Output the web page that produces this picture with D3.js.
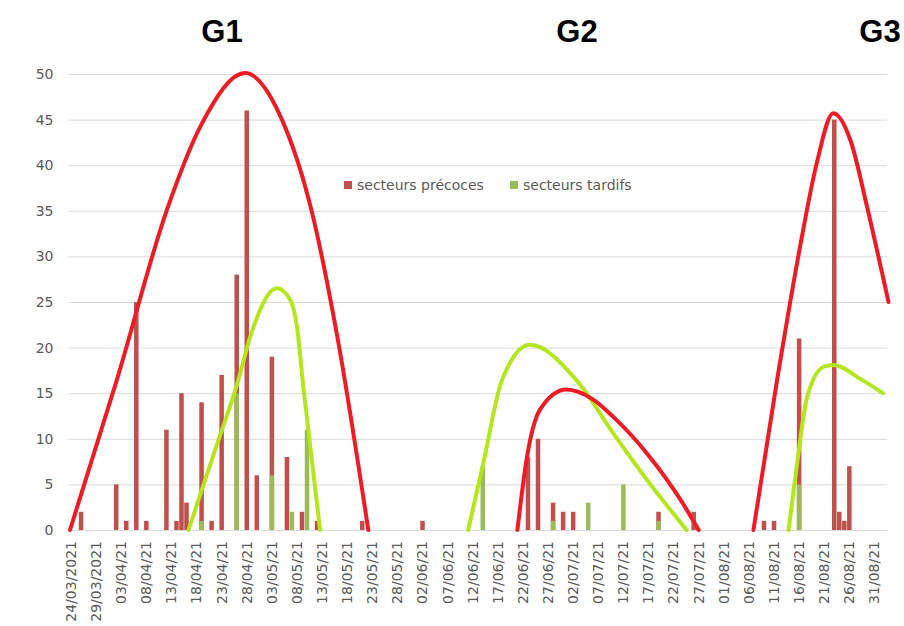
<!DOCTYPE html>
<html>
<head>
<meta charset="utf-8">
<script src="https://cdn.jsdelivr.net/npm/d3@7"></script>
<style>
body{margin:0;background:#fff;}
text{font-family:"DejaVu Sans",sans-serif;}
</style>
</head>
<body>
<svg id="chart" width="904" height="626"></svg>
<script>
// one category per day, from 24/03/2021 to 02/09/2021
const firstDay = new Date(2021, 2, 24);
const nbDays = 163;

// labels shown every 5 days
const tickLabels = ["24/03/2021","29/03/2021","03/04/21","08/04/21","13/04/21","18/04/21","23/04/21",
  "28/04/21","03/05/21","08/05/21","13/05/21","18/05/21","23/05/21","28/05/21","02/06/21","07/06/21",
  "12/06/21","17/06/21","22/06/21","27/06/21","02/07/21","07/07/21","12/07/21","17/07/21","22/07/21",
  "27/07/21","01/08/21","06/08/21","11/08/21","16/08/21","21/08/21","26/08/21","31/08/21"];

const yTicks = [0,5,10,15,20,25,30,35,40,45,50];

const seriesNames = ["secteurs précoces","secteurs tardifs"];

// [day, count]
const precoces = [["26/03",2],["02/04",5],["04/04",1],["06/04",25],["08/04",1],["12/04",11],["14/04",1],
  ["15/04",15],["16/04",3],["19/04",14],["21/04",1],["23/04",17],["26/04",28],["28/04",46],["30/04",6],
  ["03/05",19],["06/05",8],["09/05",2],["12/05",1],["21/05",1],["02/06",1],["23/06",8],["25/06",10],
  ["28/06",3],["30/06",2],["02/07",2],["19/07",2],["26/07",2],["09/08",1],["11/08",1],["16/08",21],
  ["23/08",45],["24/08",2],["25/08",1],["26/08",7]];

const tardifs = [["19/04",1],["26/04",15],["03/05",6],["07/05",2],["10/05",11],["14/06",7],["28/06",1],
  ["05/07",3],["12/07",5],["19/07",1],["16/08",5]];

// hand drawn trend curves: [days since 24/03, value]
const g1Rouge = [[-0.2,0],[9.1,16.4],[19.1,35.1],[26,44.5],[34.7,50.1],[42,45],[48,34.8],[53,21.3],[59.2,0]];
const g1Vert = [[23.4,0],[28.4,8.3],[33.3,16.4],[35.7,21.2],[41,26.5],[43.7,25.2],[45,22.3],[46.3,15.5],[49.6,0]];
const g2Rouge = [[88.9,0],[90.8,8],[93.4,13.2],[98.6,15.4],[104,14.3],[108,12.4],[114.7,8.4],[121.4,3.3],[125,0]];
const g2Vert = [[79.1,0],[82.1,7.3],[85.8,16.4],[91.4,20.3],[100.7,16.4],[108,10.6],[114.7,5.5],[122.6,0]];
const g3Rouge = [[135.9,0],[140.6,16.4],[145.2,31.1],[148.5,40.2],[151.8,45.7],[155.3,42.6],[158.5,35.5],[162.8,25]];
const g3Vert = [[142.9,0],[144.6,7.3],[146.6,14.6],[149.9,17.9],[151.8,18.1],[157.1,16.6],[161.7,15]];

const groupes = ["G1","G2","G3"];

const svg = d3.select('#chart');
const margin = {top:74, right:17, bottom:96, left:68.5};
const width = 904 - margin.left - margin.right;
const height = 626 - margin.top - margin.bottom;

const fmt = d3.timeFormat('%d/%m');
const categories = d3.range(nbDays).map(i => fmt(d3.timeDay.offset(firstDay, i)));

const x = d3.scaleBand().domain(categories).range([0, width]).paddingInner(0.1).paddingOuter(0.05);
const y = d3.scaleLinear().domain([0, 50]).range([height, 0]);
const xDay = d3.scaleLinear().domain([0, nbDays - 1])
  .range([x(categories[0]) + x.bandwidth()/2, x(categories[nbDays-1]) + x.bandwidth()/2]);

const g = svg.append('g').attr('transform', `translate(${margin.left},${margin.top})`);

// grid + y labels
const yAxis = g.append('g')
  .call(d3.axisLeft(y).tickValues(yTicks).tickSize(-width).tickPadding(15));
yAxis.select('.domain').remove();
yAxis.selectAll('line').attr('stroke', '#d9d9d9');
yAxis.selectAll('text').attr('fill', '#595959').style('font-size', '14px');

// x labels
const tickCats = categories.filter((d, i) => i % 5 === 0);
const xAxis = g.append('g').attr('transform', `translate(0,${height})`)
  .call(d3.axisBottom(x).tickValues(tickCats).tickSize(0).tickFormat((d, i) => tickLabels[i]));
xAxis.select('.domain').attr('stroke', '#d9d9d9');
xAxis.selectAll('text')
  .attr('transform', 'rotate(-90)')
  .attr('text-anchor', 'end')
  .attr('x', -11).attr('y', 0).attr('dy', '0.35em')
  .attr('fill', '#595959').style('font-size', '14px');

// bars (green drawn over red)
const colors = ['#c0504d', '#9bbb59'];
[precoces, tardifs].forEach((serie, k) => {
  g.append('g').selectAll('rect').data(serie).enter().append('rect')
    .attr('x', d => x(d[0]))
    .attr('width', x.bandwidth())
    .attr('y', d => y(d[1]))
    .attr('height', d => y(0) - y(d[1]))
    .attr('fill', colors[k]);
});

// trend curves
const line = d3.line().x(d => xDay(d[0])).y(d => y(d[1])).curve(d3.curveMonotoneX);
const courbes = [[g1Rouge,'#ed1c24'],[g1Vert,'#b5e61d'],[g2Vert,'#b5e61d'],[g2Rouge,'#ed1c24'],[g3Rouge,'#ed1c24'],[g3Vert,'#b5e61d']];
g.selectAll('path.courbe').data(courbes).enter().append('path')
  .attr('class', 'courbe')
  .attr('d', d => line(d[0]))
  .attr('fill', 'none')
  .attr('stroke', d => d[1])
  .attr('stroke-width', 4)
  .attr('stroke-linecap', 'round');

// legend
const legX = [344, 510];
const leg = svg.append('g').selectAll('g').data(seriesNames).enter().append('g')
  .attr('transform', (d, i) => `translate(${legX[i]},181)`);
leg.append('rect').attr('width', 8).attr('height', 8).attr('fill', (d, i) => colors[i]);
leg.append('text').attr('x', 13).attr('y', 9).attr('fill', '#595959').style('font-size', '14px').text(d => d);

// group titles
const titreX = [222, 577, 880];
svg.selectAll('text.titre').data(groupes).enter().append('text')
  .attr('class', 'titre')
  .attr('x', (d, i) => titreX[i]).attr('y', 42)
  .attr('text-anchor', 'middle')
  .style('font-family', '"Liberation Sans", Arial, sans-serif')
  .style('font-weight', 'bold').style('font-size', '31px')
  .text(d => d);
</script>
</body>
</html>
